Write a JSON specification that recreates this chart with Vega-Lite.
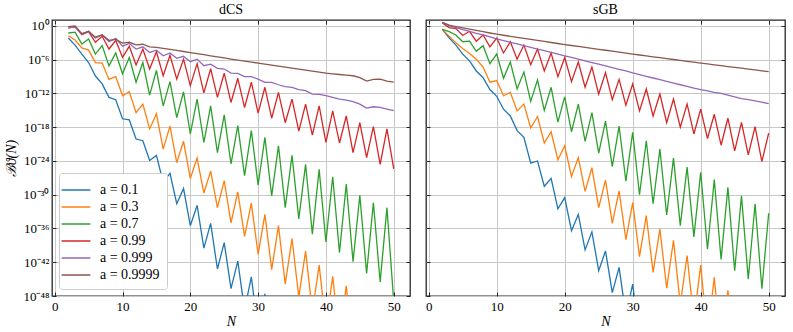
{
"$schema":"https://vega.github.io/schema/vega-lite/v6.json",
"padding":{"left":4,"top":1,"right":5,"bottom":0},
"spacing":12,
"config":{
"font":"Liberation Serif",
"view":{"stroke":"#262626","strokeWidth":1.3},
"axis":{"grid":true,"gridColor":"#c8c8c8","gridWidth":1,"domain":false,"tickSize":-4,"tickColor":"#262626","tickWidth":1,"labelFont":"Liberation Serif","labelFontSize":13,"labelColor":"#000","titleFont":"Liberation Serif","titleFontSize":14,"titleFontWeight":"normal","titleColor":"#000"},
"legend":{"labelFont":"Liberation Serif","labelFontSize":14,"labelColor":"#000"},
"title":{"font":"Liberation Serif","fontSize":14,"fontWeight":"normal","color":"#000"}
},
"resolve":{"scale":{"color":"independent"}},
"datasets":{"d":[
{"p":"dCS","a":"0.1","N":2,"v":-2.14},{"p":"dCS","a":"0.1","N":3,"v":-3.4},{"p":"dCS","a":"0.1","N":4,"v":-5.0},{"p":"dCS","a":"0.1","N":5,"v":-6.5},{"p":"dCS","a":"0.1","N":6,"v":-8.9},{"p":"dCS","a":"0.1","N":7,"v":-10.3},{"p":"dCS","a":"0.1","N":8,"v":-12.7},{"p":"dCS","a":"0.1","N":9,"v":-13.1},{"p":"dCS","a":"0.1","N":10,"v":-16.5},{"p":"dCS","a":"0.1","N":11,"v":-16.7},{"p":"dCS","a":"0.1","N":12,"v":-20.1},{"p":"dCS","a":"0.1","N":13,"v":-20.4},{"p":"dCS","a":"0.1","N":14,"v":-23.9},{"p":"dCS","a":"0.1","N":15,"v":-23.0},{"p":"dCS","a":"0.1","N":16,"v":-27.8},{"p":"dCS","a":"0.1","N":17,"v":-26.2},{"p":"dCS","a":"0.1","N":18,"v":-31.6},{"p":"dCS","a":"0.1","N":19,"v":-28.9},{"p":"dCS","a":"0.1","N":20,"v":-35.5},{"p":"dCS","a":"0.1","N":21,"v":-31.9},{"p":"dCS","a":"0.1","N":22,"v":-39.5},{"p":"dCS","a":"0.1","N":23,"v":-35.1},{"p":"dCS","a":"0.1","N":24,"v":-43.2},{"p":"dCS","a":"0.1","N":25,"v":-38.5},{"p":"dCS","a":"0.1","N":26,"v":-46.7},{"p":"dCS","a":"0.1","N":27,"v":-41.8},{"p":"dCS","a":"0.1","N":28,"v":-50.5},{"p":"dCS","a":"0.1","N":29,"v":-44.6},{"p":"dCS","a":"0.1","N":30,"v":-54.3},{"p":"dCS","a":"0.1","N":31,"v":-47.6},{"p":"dCS","a":"0.1","N":32,"v":-58},{"p":"dCS","a":"0.1","N":33,"v":-51},{"p":"dCS","a":"0.1","N":34,"v":-62},{"p":"dCS","a":"0.1","N":35,"v":-54.5},{"p":"dCS","a":"0.1","N":36,"v":-66},{"p":"dCS","a":"0.1","N":37,"v":-58},{"p":"dCS","a":"0.1","N":38,"v":-70},{"p":"dCS","a":"0.1","N":39,"v":-61.5},{"p":"dCS","a":"0.1","N":40,"v":-74},{"p":"dCS","a":"0.1","N":41,"v":-65},{"p":"dCS","a":"0.1","N":42,"v":-78},{"p":"dCS","a":"0.1","N":43,"v":-68.5},{"p":"dCS","a":"0.1","N":44,"v":-82},{"p":"dCS","a":"0.1","N":45,"v":-72},{"p":"dCS","a":"0.1","N":46,"v":-86},{"p":"dCS","a":"0.1","N":47,"v":-75.5},{"p":"dCS","a":"0.1","N":48,"v":-90},{"p":"dCS","a":"0.1","N":49,"v":-79},{"p":"dCS","a":"0.1","N":50,"v":-94},
{"p":"dCS","a":"0.3","N":2,"v":-1.73},{"p":"dCS","a":"0.3","N":3,"v":-2.5},{"p":"dCS","a":"0.3","N":4,"v":-3.9},{"p":"dCS","a":"0.3","N":5,"v":-4.3},{"p":"dCS","a":"0.3","N":6,"v":-6.5},{"p":"dCS","a":"0.3","N":7,"v":-6.6},{"p":"dCS","a":"0.3","N":8,"v":-9.5},{"p":"dCS","a":"0.3","N":9,"v":-9.0},{"p":"dCS","a":"0.3","N":10,"v":-12.4},{"p":"dCS","a":"0.3","N":11,"v":-11.7},{"p":"dCS","a":"0.3","N":12,"v":-15.4},{"p":"dCS","a":"0.3","N":13,"v":-13.9},{"p":"dCS","a":"0.3","N":14,"v":-18.3},{"p":"dCS","a":"0.3","N":15,"v":-15.6},{"p":"dCS","a":"0.3","N":16,"v":-21.9},{"p":"dCS","a":"0.3","N":17,"v":-17.8},{"p":"dCS","a":"0.3","N":18,"v":-24.3},{"p":"dCS","a":"0.3","N":19,"v":-20.5},{"p":"dCS","a":"0.3","N":20,"v":-27.1},{"p":"dCS","a":"0.3","N":21,"v":-23.5},{"p":"dCS","a":"0.3","N":22,"v":-29.7},{"p":"dCS","a":"0.3","N":23,"v":-25.8},{"p":"dCS","a":"0.3","N":24,"v":-32.3},{"p":"dCS","a":"0.3","N":25,"v":-27.5},{"p":"dCS","a":"0.3","N":26,"v":-35.0},{"p":"dCS","a":"0.3","N":27,"v":-29.5},{"p":"dCS","a":"0.3","N":28,"v":-37.4},{"p":"dCS","a":"0.3","N":29,"v":-31.5},{"p":"dCS","a":"0.3","N":30,"v":-40.6},{"p":"dCS","a":"0.3","N":31,"v":-33.5},{"p":"dCS","a":"0.3","N":32,"v":-43.3},{"p":"dCS","a":"0.3","N":33,"v":-35.5},{"p":"dCS","a":"0.3","N":34,"v":-45.9},{"p":"dCS","a":"0.3","N":35,"v":-37.8},{"p":"dCS","a":"0.3","N":36,"v":-48.2},{"p":"dCS","a":"0.3","N":37,"v":-40.0},{"p":"dCS","a":"0.3","N":38,"v":-50.8},{"p":"dCS","a":"0.3","N":39,"v":-42.5},{"p":"dCS","a":"0.3","N":40,"v":-53.3},{"p":"dCS","a":"0.3","N":41,"v":-44.5},{"p":"dCS","a":"0.3","N":42,"v":-55.8},{"p":"dCS","a":"0.3","N":43,"v":-46.2},{"p":"dCS","a":"0.3","N":44,"v":-58.3},{"p":"dCS","a":"0.3","N":45,"v":-48.5},{"p":"dCS","a":"0.3","N":46,"v":-60.8},{"p":"dCS","a":"0.3","N":47,"v":-50.5},{"p":"dCS","a":"0.3","N":48,"v":-63.3},{"p":"dCS","a":"0.3","N":49,"v":-52.5},{"p":"dCS","a":"0.3","N":50,"v":-65.8},
{"p":"dCS","a":"0.7","N":2,"v":-1.25},{"p":"dCS","a":"0.7","N":3,"v":-1.1},{"p":"dCS","a":"0.7","N":4,"v":-3.2},{"p":"dCS","a":"0.7","N":5,"v":-2.3},{"p":"dCS","a":"0.7","N":6,"v":-5.0},{"p":"dCS","a":"0.7","N":7,"v":-3.5},{"p":"dCS","a":"0.7","N":8,"v":-7.1},{"p":"dCS","a":"0.7","N":9,"v":-4.8},{"p":"dCS","a":"0.7","N":10,"v":-8.5},{"p":"dCS","a":"0.7","N":11,"v":-5.6},{"p":"dCS","a":"0.7","N":12,"v":-10.0},{"p":"dCS","a":"0.7","N":13,"v":-6.5},{"p":"dCS","a":"0.7","N":14,"v":-12.3},{"p":"dCS","a":"0.7","N":15,"v":-7.9},{"p":"dCS","a":"0.7","N":16,"v":-14.2},{"p":"dCS","a":"0.7","N":17,"v":-9.9},{"p":"dCS","a":"0.7","N":18,"v":-16.3},{"p":"dCS","a":"0.7","N":19,"v":-11.7},{"p":"dCS","a":"0.7","N":20,"v":-19.2},{"p":"dCS","a":"0.7","N":21,"v":-13.0},{"p":"dCS","a":"0.7","N":22,"v":-20.7},{"p":"dCS","a":"0.7","N":23,"v":-14.2},{"p":"dCS","a":"0.7","N":24,"v":-22.5},{"p":"dCS","a":"0.7","N":25,"v":-15.8},{"p":"dCS","a":"0.7","N":26,"v":-24.5},{"p":"dCS","a":"0.7","N":27,"v":-17.7},{"p":"dCS","a":"0.7","N":28,"v":-26.6},{"p":"dCS","a":"0.7","N":29,"v":-18.6},{"p":"dCS","a":"0.7","N":30,"v":-28.3},{"p":"dCS","a":"0.7","N":31,"v":-19.8},{"p":"dCS","a":"0.7","N":32,"v":-30.2},{"p":"dCS","a":"0.7","N":33,"v":-21.3},{"p":"dCS","a":"0.7","N":34,"v":-32.3},{"p":"dCS","a":"0.7","N":35,"v":-23.0},{"p":"dCS","a":"0.7","N":36,"v":-34.3},{"p":"dCS","a":"0.7","N":37,"v":-24.6},{"p":"dCS","a":"0.7","N":38,"v":-37.0},{"p":"dCS","a":"0.7","N":39,"v":-25.5},{"p":"dCS","a":"0.7","N":40,"v":-38.4},{"p":"dCS","a":"0.7","N":41,"v":-26.8},{"p":"dCS","a":"0.7","N":42,"v":-40.3},{"p":"dCS","a":"0.7","N":43,"v":-28.1},{"p":"dCS","a":"0.7","N":44,"v":-41.9},{"p":"dCS","a":"0.7","N":45,"v":-30.1},{"p":"dCS","a":"0.7","N":46,"v":-44.0},{"p":"dCS","a":"0.7","N":47,"v":-31.4},{"p":"dCS","a":"0.7","N":48,"v":-45.5},{"p":"dCS","a":"0.7","N":49,"v":-32.3},{"p":"dCS","a":"0.7","N":50,"v":-49.0},
{"p":"dCS","a":"0.99","N":2,"v":-0.36},{"p":"dCS","a":"0.99","N":3,"v":-0.12},{"p":"dCS","a":"0.99","N":4,"v":-1.55},{"p":"dCS","a":"0.99","N":5,"v":-1.0},{"p":"dCS","a":"0.99","N":6,"v":-2.9},{"p":"dCS","a":"0.99","N":7,"v":-1.84},{"p":"dCS","a":"0.99","N":8,"v":-4.1},{"p":"dCS","a":"0.99","N":9,"v":-2.6},{"p":"dCS","a":"0.99","N":10,"v":-5.58},{"p":"dCS","a":"0.99","N":11,"v":-3.62},{"p":"dCS","a":"0.99","N":12,"v":-6.95},{"p":"dCS","a":"0.99","N":13,"v":-4.1},{"p":"dCS","a":"0.99","N":14,"v":-7.66},{"p":"dCS","a":"0.99","N":15,"v":-4.6},{"p":"dCS","a":"0.99","N":16,"v":-8.84},{"p":"dCS","a":"0.99","N":17,"v":-5.2},{"p":"dCS","a":"0.99","N":18,"v":-9.44},{"p":"dCS","a":"0.99","N":19,"v":-5.9},{"p":"dCS","a":"0.99","N":20,"v":-10.6},{"p":"dCS","a":"0.99","N":21,"v":-6.7},{"p":"dCS","a":"0.99","N":22,"v":-11.9},{"p":"dCS","a":"0.99","N":23,"v":-7.6},{"p":"dCS","a":"0.99","N":24,"v":-12.7},{"p":"dCS","a":"0.99","N":25,"v":-8.4},{"p":"dCS","a":"0.99","N":26,"v":-13.6},{"p":"dCS","a":"0.99","N":27,"v":-9.3},{"p":"dCS","a":"0.99","N":28,"v":-14.5},{"p":"dCS","a":"0.99","N":29,"v":-10.0},{"p":"dCS","a":"0.99","N":30,"v":-15.5},{"p":"dCS","a":"0.99","N":31,"v":-10.9},{"p":"dCS","a":"0.99","N":32,"v":-16.4},{"p":"dCS","a":"0.99","N":33,"v":-11.8},{"p":"dCS","a":"0.99","N":34,"v":-17.2},{"p":"dCS","a":"0.99","N":35,"v":-13.0},{"p":"dCS","a":"0.99","N":36,"v":-18.7},{"p":"dCS","a":"0.99","N":37,"v":-13.9},{"p":"dCS","a":"0.99","N":38,"v":-19.4},{"p":"dCS","a":"0.99","N":39,"v":-14.2},{"p":"dCS","a":"0.99","N":40,"v":-20.7},{"p":"dCS","a":"0.99","N":41,"v":-15.1},{"p":"dCS","a":"0.99","N":42,"v":-20.8},{"p":"dCS","a":"0.99","N":43,"v":-16.0},{"p":"dCS","a":"0.99","N":44,"v":-22.5},{"p":"dCS","a":"0.99","N":45,"v":-17.2},{"p":"dCS","a":"0.99","N":46,"v":-23.4},{"p":"dCS","a":"0.99","N":47,"v":-17.9},{"p":"dCS","a":"0.99","N":48,"v":-24.6},{"p":"dCS","a":"0.99","N":49,"v":-18.3},{"p":"dCS","a":"0.99","N":50,"v":-25.4},
{"p":"dCS","a":"0.999","N":2,"v":-0.24},{"p":"dCS","a":"0.999","N":3,"v":-0.2},{"p":"dCS","a":"0.999","N":4,"v":-1.43},{"p":"dCS","a":"0.999","N":5,"v":-1.0},{"p":"dCS","a":"0.999","N":6,"v":-2.14},{"p":"dCS","a":"0.999","N":7,"v":-1.6},{"p":"dCS","a":"0.999","N":8,"v":-2.8},{"p":"dCS","a":"0.999","N":9,"v":-2.2},{"p":"dCS","a":"0.999","N":10,"v":-3.6},{"p":"dCS","a":"0.999","N":11,"v":-3.1},{"p":"dCS","a":"0.999","N":12,"v":-4.1},{"p":"dCS","a":"0.999","N":13,"v":-3.7},{"p":"dCS","a":"0.999","N":14,"v":-4.7},{"p":"dCS","a":"0.999","N":15,"v":-4.3},{"p":"dCS","a":"0.999","N":16,"v":-5.3},{"p":"dCS","a":"0.999","N":17,"v":-4.8},{"p":"dCS","a":"0.999","N":18,"v":-5.76},{"p":"dCS","a":"0.999","N":19,"v":-5.4},{"p":"dCS","a":"0.999","N":20,"v":-6.35},{"p":"dCS","a":"0.999","N":21,"v":-5.9},{"p":"dCS","a":"0.999","N":22,"v":-7.06},{"p":"dCS","a":"0.999","N":23,"v":-6.8},{"p":"dCS","a":"0.999","N":24,"v":-7.54},{"p":"dCS","a":"0.999","N":25,"v":-7.66},{"p":"dCS","a":"0.999","N":26,"v":-8.37},{"p":"dCS","a":"0.999","N":27,"v":-8.43},{"p":"dCS","a":"0.999","N":28,"v":-9.02},{"p":"dCS","a":"0.999","N":29,"v":-9.02},{"p":"dCS","a":"0.999","N":30,"v":-9.44},{"p":"dCS","a":"0.999","N":31,"v":-10.03},{"p":"dCS","a":"0.999","N":32,"v":-10.03},{"p":"dCS","a":"0.999","N":33,"v":-10.45},{"p":"dCS","a":"0.999","N":34,"v":-10.8},{"p":"dCS","a":"0.999","N":35,"v":-10.92},{"p":"dCS","a":"0.999","N":36,"v":-11.33},{"p":"dCS","a":"0.999","N":37,"v":-11.51},{"p":"dCS","a":"0.999","N":38,"v":-12.1},{"p":"dCS","a":"0.999","N":39,"v":-12.16},{"p":"dCS","a":"0.999","N":40,"v":-12.4},{"p":"dCS","a":"0.999","N":41,"v":-12.7},{"p":"dCS","a":"0.999","N":42,"v":-13.0},{"p":"dCS","a":"0.999","N":43,"v":-13.17},{"p":"dCS","a":"0.999","N":44,"v":-13.47},{"p":"dCS","a":"0.999","N":45,"v":-13.89},{"p":"dCS","a":"0.999","N":46,"v":-14.6},{"p":"dCS","a":"0.999","N":47,"v":-14.36},{"p":"dCS","a":"0.999","N":48,"v":-14.48},{"p":"dCS","a":"0.999","N":49,"v":-14.77},{"p":"dCS","a":"0.999","N":50,"v":-15.07},
{"p":"dCS","a":"0.9999","N":2,"v":-0.12},{"p":"dCS","a":"0.9999","N":3,"v":0.0},{"p":"dCS","a":"0.9999","N":4,"v":-1.35},{"p":"dCS","a":"0.9999","N":5,"v":-0.95},{"p":"dCS","a":"0.9999","N":6,"v":-2.0},{"p":"dCS","a":"0.9999","N":7,"v":-1.55},{"p":"dCS","a":"0.9999","N":8,"v":-2.55},{"p":"dCS","a":"0.9999","N":9,"v":-2.4},{"p":"dCS","a":"0.9999","N":10,"v":-3.05},{"p":"dCS","a":"0.9999","N":11,"v":-2.9},{"p":"dCS","a":"0.9999","N":12,"v":-3.35},{"p":"dCS","a":"0.9999","N":13,"v":-3.25},{"p":"dCS","a":"0.9999","N":14,"v":-3.7},{"p":"dCS","a":"0.9999","N":15,"v":-3.8},{"p":"dCS","a":"0.9999","N":16,"v":-3.97},{"p":"dCS","a":"0.9999","N":17,"v":-4.16},{"p":"dCS","a":"0.9999","N":18,"v":-4.35},{"p":"dCS","a":"0.9999","N":19,"v":-4.54},{"p":"dCS","a":"0.9999","N":20,"v":-4.73},{"p":"dCS","a":"0.9999","N":21,"v":-4.92},{"p":"dCS","a":"0.9999","N":22,"v":-5.11},{"p":"dCS","a":"0.9999","N":23,"v":-5.3},{"p":"dCS","a":"0.9999","N":24,"v":-5.49},{"p":"dCS","a":"0.9999","N":25,"v":-5.68},{"p":"dCS","a":"0.9999","N":26,"v":-5.88},{"p":"dCS","a":"0.9999","N":27,"v":-6.06},{"p":"dCS","a":"0.9999","N":28,"v":-6.24},{"p":"dCS","a":"0.9999","N":29,"v":-6.42},{"p":"dCS","a":"0.9999","N":30,"v":-6.6},{"p":"dCS","a":"0.9999","N":31,"v":-6.78},{"p":"dCS","a":"0.9999","N":32,"v":-6.96},{"p":"dCS","a":"0.9999","N":33,"v":-7.14},{"p":"dCS","a":"0.9999","N":34,"v":-7.32},{"p":"dCS","a":"0.9999","N":35,"v":-7.5},{"p":"dCS","a":"0.9999","N":36,"v":-7.68},{"p":"dCS","a":"0.9999","N":37,"v":-7.86},{"p":"dCS","a":"0.9999","N":38,"v":-8.04},{"p":"dCS","a":"0.9999","N":39,"v":-8.22},{"p":"dCS","a":"0.9999","N":40,"v":-8.4},{"p":"dCS","a":"0.9999","N":41,"v":-8.52},{"p":"dCS","a":"0.9999","N":42,"v":-8.63},{"p":"dCS","a":"0.9999","N":43,"v":-8.74},{"p":"dCS","a":"0.9999","N":44,"v":-8.85},{"p":"dCS","a":"0.9999","N":45,"v":-9.2},{"p":"dCS","a":"0.9999","N":46,"v":-9.79},{"p":"dCS","a":"0.9999","N":47,"v":-9.5},{"p":"dCS","a":"0.9999","N":48,"v":-9.45},{"p":"dCS","a":"0.9999","N":49,"v":-9.79},{"p":"dCS","a":"0.9999","N":50,"v":-9.97},
{"p":"sGB","a":"0.1","N":2,"v":-0.6},{"p":"sGB","a":"0.1","N":3,"v":-2.1},{"p":"sGB","a":"0.1","N":4,"v":-3.4},{"p":"sGB","a":"0.1","N":5,"v":-5.0},{"p":"sGB","a":"0.1","N":6,"v":-6.2},{"p":"sGB","a":"0.1","N":7,"v":-8.0},{"p":"sGB","a":"0.1","N":8,"v":-9.2},{"p":"sGB","a":"0.1","N":9,"v":-11.3},{"p":"sGB","a":"0.1","N":10,"v":-12.5},{"p":"sGB","a":"0.1","N":11,"v":-14.8},{"p":"sGB","a":"0.1","N":12,"v":-16.0},{"p":"sGB","a":"0.1","N":13,"v":-18.6},{"p":"sGB","a":"0.1","N":14,"v":-19.8},{"p":"sGB","a":"0.1","N":15,"v":-24.4},{"p":"sGB","a":"0.1","N":16,"v":-24.0},{"p":"sGB","a":"0.1","N":17,"v":-28.5},{"p":"sGB","a":"0.1","N":18,"v":-27.1},{"p":"sGB","a":"0.1","N":19,"v":-32.5},{"p":"sGB","a":"0.1","N":20,"v":-30.5},{"p":"sGB","a":"0.1","N":21,"v":-36.4},{"p":"sGB","a":"0.1","N":22,"v":-33.5},{"p":"sGB","a":"0.1","N":23,"v":-39.8},{"p":"sGB","a":"0.1","N":24,"v":-36.6},{"p":"sGB","a":"0.1","N":25,"v":-43.5},{"p":"sGB","a":"0.1","N":26,"v":-40.0},{"p":"sGB","a":"0.1","N":27,"v":-47.4},{"p":"sGB","a":"0.1","N":28,"v":-42.9},{"p":"sGB","a":"0.1","N":29,"v":-51.5},{"p":"sGB","a":"0.1","N":30,"v":-45.9},{"p":"sGB","a":"0.1","N":31,"v":-55.5},{"p":"sGB","a":"0.1","N":32,"v":-49.5},{"p":"sGB","a":"0.1","N":33,"v":-59.5},{"p":"sGB","a":"0.1","N":34,"v":-53},{"p":"sGB","a":"0.1","N":35,"v":-63.5},{"p":"sGB","a":"0.1","N":36,"v":-56.5},{"p":"sGB","a":"0.1","N":37,"v":-67.5},{"p":"sGB","a":"0.1","N":38,"v":-60},{"p":"sGB","a":"0.1","N":39,"v":-71.5},{"p":"sGB","a":"0.1","N":40,"v":-63.5},{"p":"sGB","a":"0.1","N":41,"v":-75.5},{"p":"sGB","a":"0.1","N":42,"v":-67},{"p":"sGB","a":"0.1","N":43,"v":-79.5},{"p":"sGB","a":"0.1","N":44,"v":-70.5},{"p":"sGB","a":"0.1","N":45,"v":-83.5},{"p":"sGB","a":"0.1","N":46,"v":-74},{"p":"sGB","a":"0.1","N":47,"v":-87.5},{"p":"sGB","a":"0.1","N":48,"v":-77.5},{"p":"sGB","a":"0.1","N":49,"v":-91.5},{"p":"sGB","a":"0.1","N":50,"v":-81},
{"p":"sGB","a":"0.3","N":2,"v":-0.6},{"p":"sGB","a":"0.3","N":3,"v":-1.8},{"p":"sGB","a":"0.3","N":4,"v":-3.0},{"p":"sGB","a":"0.3","N":5,"v":-4.0},{"p":"sGB","a":"0.3","N":6,"v":-4.9},{"p":"sGB","a":"0.3","N":7,"v":-5.9},{"p":"sGB","a":"0.3","N":8,"v":-7.3},{"p":"sGB","a":"0.3","N":9,"v":-10.0},{"p":"sGB","a":"0.3","N":10,"v":-9.7},{"p":"sGB","a":"0.3","N":11,"v":-12.4},{"p":"sGB","a":"0.3","N":12,"v":-11.8},{"p":"sGB","a":"0.3","N":13,"v":-15.1},{"p":"sGB","a":"0.3","N":14,"v":-13.9},{"p":"sGB","a":"0.3","N":15,"v":-18.1},{"p":"sGB","a":"0.3","N":16,"v":-16.1},{"p":"sGB","a":"0.3","N":17,"v":-20.8},{"p":"sGB","a":"0.3","N":18,"v":-18.8},{"p":"sGB","a":"0.3","N":19,"v":-23.8},{"p":"sGB","a":"0.3","N":20,"v":-21.3},{"p":"sGB","a":"0.3","N":21,"v":-26.8},{"p":"sGB","a":"0.3","N":22,"v":-23.4},{"p":"sGB","a":"0.3","N":23,"v":-29.4},{"p":"sGB","a":"0.3","N":24,"v":-25.2},{"p":"sGB","a":"0.3","N":25,"v":-32.3},{"p":"sGB","a":"0.3","N":26,"v":-27.4},{"p":"sGB","a":"0.3","N":27,"v":-35.1},{"p":"sGB","a":"0.3","N":28,"v":-29.3},{"p":"sGB","a":"0.3","N":29,"v":-38.0},{"p":"sGB","a":"0.3","N":30,"v":-31.4},{"p":"sGB","a":"0.3","N":31,"v":-41.0},{"p":"sGB","a":"0.3","N":32,"v":-33.7},{"p":"sGB","a":"0.3","N":33,"v":-43.8},{"p":"sGB","a":"0.3","N":34,"v":-36.1},{"p":"sGB","a":"0.3","N":35,"v":-46.6},{"p":"sGB","a":"0.3","N":36,"v":-38.1},{"p":"sGB","a":"0.3","N":37,"v":-49.5},{"p":"sGB","a":"0.3","N":38,"v":-40.8},{"p":"sGB","a":"0.3","N":39,"v":-52.3},{"p":"sGB","a":"0.3","N":40,"v":-42.5},{"p":"sGB","a":"0.3","N":41,"v":-55},{"p":"sGB","a":"0.3","N":42,"v":-44.7},{"p":"sGB","a":"0.3","N":43,"v":-57.7},{"p":"sGB","a":"0.3","N":44,"v":-47.0},{"p":"sGB","a":"0.3","N":45,"v":-60.5},{"p":"sGB","a":"0.3","N":46,"v":-49.5},{"p":"sGB","a":"0.3","N":47,"v":-63.2},{"p":"sGB","a":"0.3","N":48,"v":-52},{"p":"sGB","a":"0.3","N":49,"v":-66},{"p":"sGB","a":"0.3","N":50,"v":-54.5},
{"p":"sGB","a":"0.7","N":2,"v":-0.6},{"p":"sGB","a":"0.7","N":3,"v":-1.0},{"p":"sGB","a":"0.7","N":4,"v":-1.6},{"p":"sGB","a":"0.7","N":5,"v":-2.8},{"p":"sGB","a":"0.7","N":6,"v":-2.7},{"p":"sGB","a":"0.7","N":7,"v":-4.5},{"p":"sGB","a":"0.7","N":8,"v":-3.5},{"p":"sGB","a":"0.7","N":9,"v":-6.7},{"p":"sGB","a":"0.7","N":10,"v":-5.0},{"p":"sGB","a":"0.7","N":11,"v":-9.3},{"p":"sGB","a":"0.7","N":12,"v":-6.4},{"p":"sGB","a":"0.7","N":13,"v":-11.2},{"p":"sGB","a":"0.7","N":14,"v":-8.2},{"p":"sGB","a":"0.7","N":15,"v":-13.4},{"p":"sGB","a":"0.7","N":16,"v":-9.6},{"p":"sGB","a":"0.7","N":17,"v":-15.0},{"p":"sGB","a":"0.7","N":18,"v":-10.9},{"p":"sGB","a":"0.7","N":19,"v":-17.1},{"p":"sGB","a":"0.7","N":20,"v":-12.6},{"p":"sGB","a":"0.7","N":21,"v":-18.8},{"p":"sGB","a":"0.7","N":22,"v":-13.9},{"p":"sGB","a":"0.7","N":23,"v":-20.5},{"p":"sGB","a":"0.7","N":24,"v":-15.4},{"p":"sGB","a":"0.7","N":25,"v":-22.6},{"p":"sGB","a":"0.7","N":26,"v":-16.9},{"p":"sGB","a":"0.7","N":27,"v":-25.0},{"p":"sGB","a":"0.7","N":28,"v":-17.8},{"p":"sGB","a":"0.7","N":29,"v":-27.6},{"p":"sGB","a":"0.7","N":30,"v":-18.9},{"p":"sGB","a":"0.7","N":31,"v":-30.0},{"p":"sGB","a":"0.7","N":32,"v":-20.4},{"p":"sGB","a":"0.7","N":33,"v":-31.6},{"p":"sGB","a":"0.7","N":34,"v":-21.9},{"p":"sGB","a":"0.7","N":35,"v":-33.6},{"p":"sGB","a":"0.7","N":36,"v":-23.5},{"p":"sGB","a":"0.7","N":37,"v":-35.5},{"p":"sGB","a":"0.7","N":38,"v":-25.1},{"p":"sGB","a":"0.7","N":39,"v":-37.5},{"p":"sGB","a":"0.7","N":40,"v":-26.0},{"p":"sGB","a":"0.7","N":41,"v":-39.7},{"p":"sGB","a":"0.7","N":42,"v":-27.3},{"p":"sGB","a":"0.7","N":43,"v":-41.5},{"p":"sGB","a":"0.7","N":44,"v":-28.7},{"p":"sGB","a":"0.7","N":45,"v":-43.5},{"p":"sGB","a":"0.7","N":46,"v":-30.2},{"p":"sGB","a":"0.7","N":47,"v":-45.0},{"p":"sGB","a":"0.7","N":48,"v":-31.6},{"p":"sGB","a":"0.7","N":49,"v":-46.7},{"p":"sGB","a":"0.7","N":50,"v":-33.3},
{"p":"sGB","a":"0.99","N":2,"v":0.53},{"p":"sGB","a":"0.99","N":3,"v":-0.3},{"p":"sGB","a":"0.99","N":4,"v":-0.45},{"p":"sGB","a":"0.99","N":5,"v":-1.7},{"p":"sGB","a":"0.99","N":6,"v":-0.95},{"p":"sGB","a":"0.99","N":7,"v":-2.7},{"p":"sGB","a":"0.99","N":8,"v":-1.6},{"p":"sGB","a":"0.99","N":9,"v":-3.7},{"p":"sGB","a":"0.99","N":10,"v":-2.15},{"p":"sGB","a":"0.99","N":11,"v":-4.8},{"p":"sGB","a":"0.99","N":12,"v":-2.8},{"p":"sGB","a":"0.99","N":13,"v":-5.9},{"p":"sGB","a":"0.99","N":14,"v":-3.4},{"p":"sGB","a":"0.99","N":15,"v":-6.9},{"p":"sGB","a":"0.99","N":16,"v":-4.1},{"p":"sGB","a":"0.99","N":17,"v":-8.0},{"p":"sGB","a":"0.99","N":18,"v":-4.8},{"p":"sGB","a":"0.99","N":19,"v":-9.0},{"p":"sGB","a":"0.99","N":20,"v":-5.6},{"p":"sGB","a":"0.99","N":21,"v":-9.9},{"p":"sGB","a":"0.99","N":22,"v":-6.4},{"p":"sGB","a":"0.99","N":23,"v":-10.9},{"p":"sGB","a":"0.99","N":24,"v":-7.3},{"p":"sGB","a":"0.99","N":25,"v":-12.1},{"p":"sGB","a":"0.99","N":26,"v":-8.3},{"p":"sGB","a":"0.99","N":27,"v":-13.1},{"p":"sGB","a":"0.99","N":28,"v":-9.5},{"p":"sGB","a":"0.99","N":29,"v":-14.1},{"p":"sGB","a":"0.99","N":30,"v":-10.3},{"p":"sGB","a":"0.99","N":31,"v":-15.1},{"p":"sGB","a":"0.99","N":32,"v":-11.2},{"p":"sGB","a":"0.99","N":33,"v":-16.0},{"p":"sGB","a":"0.99","N":34,"v":-12.1},{"p":"sGB","a":"0.99","N":35,"v":-17.2},{"p":"sGB","a":"0.99","N":36,"v":-13.0},{"p":"sGB","a":"0.99","N":37,"v":-18.0},{"p":"sGB","a":"0.99","N":38,"v":-13.9},{"p":"sGB","a":"0.99","N":39,"v":-19.2},{"p":"sGB","a":"0.99","N":40,"v":-14.8},{"p":"sGB","a":"0.99","N":41,"v":-20.0},{"p":"sGB","a":"0.99","N":42,"v":-15.7},{"p":"sGB","a":"0.99","N":43,"v":-21.2},{"p":"sGB","a":"0.99","N":44,"v":-16.4},{"p":"sGB","a":"0.99","N":45,"v":-22.2},{"p":"sGB","a":"0.99","N":46,"v":-17.15},{"p":"sGB","a":"0.99","N":47,"v":-22.9},{"p":"sGB","a":"0.99","N":48,"v":-17.9},{"p":"sGB","a":"0.99","N":49,"v":-24.1},{"p":"sGB","a":"0.99","N":50,"v":-19.05},
{"p":"sGB","a":"0.999","N":2,"v":0.6},{"p":"sGB","a":"0.999","N":3,"v":0.05},{"p":"sGB","a":"0.999","N":4,"v":-0.3},{"p":"sGB","a":"0.999","N":5,"v":-0.65},{"p":"sGB","a":"0.999","N":6,"v":-0.95},{"p":"sGB","a":"0.999","N":7,"v":-1.3},{"p":"sGB","a":"0.999","N":8,"v":-1.6},{"p":"sGB","a":"0.999","N":9,"v":-1.95},{"p":"sGB","a":"0.999","N":10,"v":-2.3},{"p":"sGB","a":"0.999","N":11,"v":-2.6},{"p":"sGB","a":"0.999","N":12,"v":-2.9},{"p":"sGB","a":"0.999","N":13,"v":-3.2},{"p":"sGB","a":"0.999","N":14,"v":-3.5},{"p":"sGB","a":"0.999","N":15,"v":-3.8},{"p":"sGB","a":"0.999","N":16,"v":-4.1},{"p":"sGB","a":"0.999","N":17,"v":-4.4},{"p":"sGB","a":"0.999","N":18,"v":-4.7},{"p":"sGB","a":"0.999","N":19,"v":-5.0},{"p":"sGB","a":"0.999","N":20,"v":-5.3},{"p":"sGB","a":"0.999","N":21,"v":-5.6},{"p":"sGB","a":"0.999","N":22,"v":-5.9},{"p":"sGB","a":"0.999","N":23,"v":-6.2},{"p":"sGB","a":"0.999","N":24,"v":-6.5},{"p":"sGB","a":"0.999","N":25,"v":-6.8},{"p":"sGB","a":"0.999","N":26,"v":-7.1},{"p":"sGB","a":"0.999","N":27,"v":-7.4},{"p":"sGB","a":"0.999","N":28,"v":-7.7},{"p":"sGB","a":"0.999","N":29,"v":-8.0},{"p":"sGB","a":"0.999","N":30,"v":-8.35},{"p":"sGB","a":"0.999","N":31,"v":-8.65},{"p":"sGB","a":"0.999","N":32,"v":-8.95},{"p":"sGB","a":"0.999","N":33,"v":-9.25},{"p":"sGB","a":"0.999","N":34,"v":-9.55},{"p":"sGB","a":"0.999","N":35,"v":-9.85},{"p":"sGB","a":"0.999","N":36,"v":-10.15},{"p":"sGB","a":"0.999","N":37,"v":-10.45},{"p":"sGB","a":"0.999","N":38,"v":-10.75},{"p":"sGB","a":"0.999","N":39,"v":-11.05},{"p":"sGB","a":"0.999","N":40,"v":-11.3},{"p":"sGB","a":"0.999","N":41,"v":-11.55},{"p":"sGB","a":"0.999","N":42,"v":-11.8},{"p":"sGB","a":"0.999","N":43,"v":-12.0},{"p":"sGB","a":"0.999","N":44,"v":-12.3},{"p":"sGB","a":"0.999","N":45,"v":-12.6},{"p":"sGB","a":"0.999","N":46,"v":-12.9},{"p":"sGB","a":"0.999","N":47,"v":-13.1},{"p":"sGB","a":"0.999","N":48,"v":-13.3},{"p":"sGB","a":"0.999","N":49,"v":-13.55},{"p":"sGB","a":"0.999","N":50,"v":-13.8},
{"p":"sGB","a":"0.9999","N":2,"v":0.65},{"p":"sGB","a":"0.9999","N":3,"v":0.15},{"p":"sGB","a":"0.9999","N":4,"v":-0.1},{"p":"sGB","a":"0.9999","N":5,"v":-0.33},{"p":"sGB","a":"0.9999","N":6,"v":-0.56},{"p":"sGB","a":"0.9999","N":7,"v":-0.8},{"p":"sGB","a":"0.9999","N":8,"v":-1.02},{"p":"sGB","a":"0.9999","N":9,"v":-1.25},{"p":"sGB","a":"0.9999","N":10,"v":-1.47},{"p":"sGB","a":"0.9999","N":11,"v":-1.65},{"p":"sGB","a":"0.9999","N":12,"v":-1.84},{"p":"sGB","a":"0.9999","N":13,"v":-2.02},{"p":"sGB","a":"0.9999","N":14,"v":-2.2},{"p":"sGB","a":"0.9999","N":15,"v":-2.39},{"p":"sGB","a":"0.9999","N":16,"v":-2.57},{"p":"sGB","a":"0.9999","N":17,"v":-2.75},{"p":"sGB","a":"0.9999","N":18,"v":-2.94},{"p":"sGB","a":"0.9999","N":19,"v":-3.12},{"p":"sGB","a":"0.9999","N":20,"v":-3.3},{"p":"sGB","a":"0.9999","N":21,"v":-3.47},{"p":"sGB","a":"0.9999","N":22,"v":-3.64},{"p":"sGB","a":"0.9999","N":23,"v":-3.81},{"p":"sGB","a":"0.9999","N":24,"v":-3.98},{"p":"sGB","a":"0.9999","N":25,"v":-4.15},{"p":"sGB","a":"0.9999","N":26,"v":-4.32},{"p":"sGB","a":"0.9999","N":27,"v":-4.49},{"p":"sGB","a":"0.9999","N":28,"v":-4.66},{"p":"sGB","a":"0.9999","N":29,"v":-4.83},{"p":"sGB","a":"0.9999","N":30,"v":-5.0},{"p":"sGB","a":"0.9999","N":31,"v":-5.16},{"p":"sGB","a":"0.9999","N":32,"v":-5.32},{"p":"sGB","a":"0.9999","N":33,"v":-5.48},{"p":"sGB","a":"0.9999","N":34,"v":-5.64},{"p":"sGB","a":"0.9999","N":35,"v":-5.8},{"p":"sGB","a":"0.9999","N":36,"v":-5.96},{"p":"sGB","a":"0.9999","N":37,"v":-6.12},{"p":"sGB","a":"0.9999","N":38,"v":-6.28},{"p":"sGB","a":"0.9999","N":39,"v":-6.44},{"p":"sGB","a":"0.9999","N":40,"v":-6.6},{"p":"sGB","a":"0.9999","N":41,"v":-6.75},{"p":"sGB","a":"0.9999","N":42,"v":-6.9},{"p":"sGB","a":"0.9999","N":43,"v":-7.06},{"p":"sGB","a":"0.9999","N":44,"v":-7.21},{"p":"sGB","a":"0.9999","N":45,"v":-7.36},{"p":"sGB","a":"0.9999","N":46,"v":-7.51},{"p":"sGB","a":"0.9999","N":47,"v":-7.66},{"p":"sGB","a":"0.9999","N":48,"v":-7.82},{"p":"sGB","a":"0.9999","N":49,"v":-7.97},{"p":"sGB","a":"0.9999","N":50,"v":-8.12}
]},
"hconcat":[
{
"width":358,"height":276,
"title":{"text":"dCS","offset":3},
"data":{"name":"d"},
"transform":[{"filter":"datum.p == 'dCS'"}],
"layer":[
{"mark":{"type":"line","strokeWidth":1.3,"clip":true},
"encoding":{
"x":{"field":"N","type":"quantitative","scale":{"domain":[-0.4,52.4],"nice":false,"zero":false},"axis":{"values":[0,10,20,30,40,50],"title":"N","titleFontStyle":"italic","labelPadding":8,"titlePadding":1}},
"y":{"field":"v","type":"quantitative","scale":{"domain":[-48,1.06],"nice":false,"zero":false},"axis":{"values":[-48,-42,-36,-30,-24,-18,-12,-6,0],"labelExpr":"['10⁰','10⁻⁶','10⁻¹²','10⁻¹⁸','10⁻²⁴','10⁻³⁰','10⁻³⁶','10⁻⁴²','10⁻⁴⁸'][round(-datum.value/6)]","title":"ℬϑ(N)","titleFontStyle":"italic","labelPadding":7,"titlePadding":4}},
"color":{"field":"a","type":"nominal","scale":{"domain":["0.1","0.3","0.7","0.99","0.999","0.9999"],"range":["#1f77b4","#ff7f0e","#2ca02c","#d62728","#9467bd","#8c564b"]},
"legend":{"orient":"bottom-left","offset":7,"title":null,"symbolType":"M-1.6,0H1.6","symbolSize":324,"symbolStrokeWidth":1.5,"labelExpr":"'a = ' + datum.label","labelFont":"Liberation Serif","labelFontSize":14,"labelColor":"#000","rowPadding":-1,"padding":7,"strokeColor":"#cccccc","fillColor":"white","cornerRadius":3,"labelOffset":14}}
}},
{"mark":{"type":"line","opacity":0},
"encoding":{
"x":{"field":"N","type":"quantitative","axis":{"orient":"top","values":[0,10,20,30,40,50],"labels":false,"title":null,"grid":false}},
"y":{"field":"v","type":"quantitative","axis":{"orient":"right","values":[-48,-42,-36,-30,-24,-18,-12,-6,0],"labels":false,"title":null,"grid":false}}
}}
],
"resolve":{"axis":{"x":"independent","y":"independent"}}
},
{
"width":359,"height":276,
"title":{"text":"sGB","offset":3},
"data":{"name":"d"},
"transform":[{"filter":"datum.p == 'sGB'"}],
"layer":[
{"mark":{"type":"line","strokeWidth":1.3,"clip":true},
"encoding":{
"x":{"field":"N","type":"quantitative","scale":{"domain":[-0.4,52.4],"nice":false,"zero":false},"axis":{"values":[0,10,20,30,40,50],"title":"N","titleFontStyle":"italic","labelPadding":8,"titlePadding":1}},
"y":{"field":"v","type":"quantitative","scale":{"domain":[-48,1.06],"nice":false,"zero":false},"axis":{"values":[-48,-42,-36,-30,-24,-18,-12,-6,0],"labels":false,"title":null}},
"color":{"field":"a","type":"nominal","scale":{"domain":["0.1","0.3","0.7","0.99","0.999","0.9999"],"range":["#1f77b4","#ff7f0e","#2ca02c","#d62728","#9467bd","#8c564b"]},"legend":null}
}},
{"mark":{"type":"line","opacity":0},
"encoding":{
"x":{"field":"N","type":"quantitative","axis":{"orient":"top","values":[0,10,20,30,40,50],"labels":false,"title":null,"grid":false}},
"y":{"field":"v","type":"quantitative","axis":{"orient":"right","values":[-48,-42,-36,-30,-24,-18,-12,-6,0],"labels":false,"title":null,"grid":false}}
}}
],
"resolve":{"axis":{"x":"independent","y":"independent"}}
}
]
}
